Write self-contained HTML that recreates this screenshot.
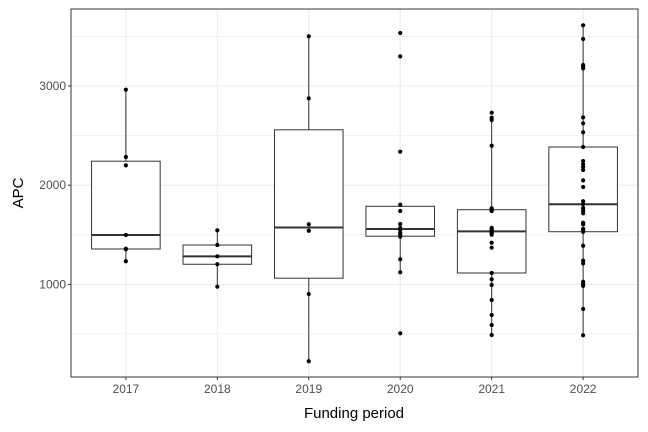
<!DOCTYPE html>
<html><head><meta charset="utf-8"><style>
body{margin:0;background:#fff}
svg{display:block;font-family:"Liberation Sans",sans-serif}
</style></head><body>
<svg id="chart" width="648" height="432">
<rect x="0" y="0" width="648" height="432" fill="#fff"/>
<g id="grid"></g>
<g id="marks"></g>
<rect x="71" y="9" width="567" height="368" fill="none" stroke="#333" stroke-width="1"/>
<g id="axes"></g>
<text x="354" y="418" text-anchor="middle" font-size="15" fill="#000">Funding period</text>
<text x="23" y="193" text-anchor="middle" font-size="15" fill="#000" transform="rotate(-90 23 193)">APC</text>
</svg>
<script>
const categories = ["2017","2018","2019","2020","2021","2022"];
const apc2017 = [2963,2284,2200,1498,1360,1354,1233];
const apc2018 = [1545,1397,1283,1203,977];
const apc2019 = [3501,2876,1606,1541,903,225];
const apc2020 = [3534,3299,2338,1803,1740,1609,1568,1548,1520,1500,1481,1253,1122,507];
const apc2021 = [2731,2680,2657,2398,1767,1760,1753,1750,1740,1570,1555,1545,1535,1525,1515,1500,1420,1370,1115,1051,994,843,692,591,490];
const apc2022 = [3612,3474,3212,3195,3178,2684,2624,2533,2385,2244,2210,2183,2153,2049,1982,1838,1808,1769,1743,1717,1622,1605,1560,1540,1531,1390,1239,1212,1027,1004,985,752,487];
const seriesValues = [apc2017,apc2018,apc2019,apc2020,apc2021,apc2022];
const yMajorTicks = [1000,2000,3000];
const yMinorTicks = [500,1500,2500,3500];

const NS="http://www.w3.org/2000/svg";
const PL=71,PR=638,PT=9,PB=377;
function yScale(v){return 284.4-(v-1000)*0.0992;}
const unit=(PR-PL)/(categories.length-1+1.2);
function xScale(i){return PL+unit*(i+0.6);}
function mk(tag,attrs,parent){const e=document.createElementNS(NS,tag);for(const k in attrs)e.setAttribute(k,attrs[k]);parent.appendChild(e);return e;}
function q(sorted,p){const pos=(sorted.length-1)*p;const lo=Math.floor(pos),hi=Math.ceil(pos);return sorted[lo]+(sorted[hi]-sorted[lo])*(pos-lo);}

const grid=document.getElementById('grid'),marks=document.getElementById('marks'),axes=document.getElementById('axes');
yMinorTicks.forEach(t=>{const l=mk('line',{x1:PL,x2:PR,y1:yScale(t),y2:yScale(t),stroke:'#ebebeb','stroke-width':0.6},grid);

});
yMajorTicks.forEach(t=>{const l=mk('line',{x1:PL,x2:PR,y1:yScale(t),y2:yScale(t),stroke:'#ebebeb','stroke-width':1.1},grid);


const tk=mk('line',{x1:PL-3,x2:PL,y1:yScale(t),y2:yScale(t),stroke:'#333','stroke-width':1},axes);


const tx=mk('text',{x:PL-5,y:yScale(t)+4,'text-anchor':'end','font-size':12,fill:'#4d4d4d'},axes);
tx.textContent=t;

});
categories.forEach((c,i)=>{const x=xScale(i);
const l=mk('line',{x1:x,x2:x,y1:PT,y2:PB,stroke:'#ebebeb','stroke-width':1.1},grid);


const tk=mk('line',{x1:x,x2:x,y1:PB,y2:PB+3,stroke:'#333','stroke-width':1},axes);


const tx=mk('text',{x:x,y:PB+16,'text-anchor':'middle','font-size':12,fill:'#4d4d4d'},axes);
tx.textContent=c;

});

const bw=unit*0.75;
seriesValues.forEach((vals,i)=>{
 const s=[...vals].sort((a,b)=>a-b);
 const q1=q(s,0.25),med=q(s,0.5),q3=q(s,0.75),iqr=q3-q1;
 const lo=Math.min(...s.filter(v=>v>=q1-1.5*iqr)),hi=Math.max(...s.filter(v=>v<=q3+1.5*iqr));
 const x=xScale(i);
 const g=mk('g',{},marks);
 
 
 const w1=mk('line',{x1:x,x2:x,y1:yScale(q3),y2:yScale(hi),stroke:'#333','stroke-width':1},g);
 
 
 const w2=mk('line',{x1:x,x2:x,y1:yScale(q1),y2:yScale(lo),stroke:'#333','stroke-width':1},g);
 
 
 const r=mk('rect',{x:x-bw/2,y:yScale(q3),width:bw,height:yScale(q1)-yScale(q3),fill:'#fff',stroke:'#333','stroke-width':1},g);
 
 
 const m=mk('line',{x1:x-bw/2,x2:x+bw/2,y1:yScale(med),y2:yScale(med),stroke:'#333','stroke-width':2},g);
 
 
 vals.forEach(v=>{const p=mk('circle',{cx:x,cy:yScale(v),r:2.1,fill:'#000'},g);
 
 });
});
</script>
</body></html>
